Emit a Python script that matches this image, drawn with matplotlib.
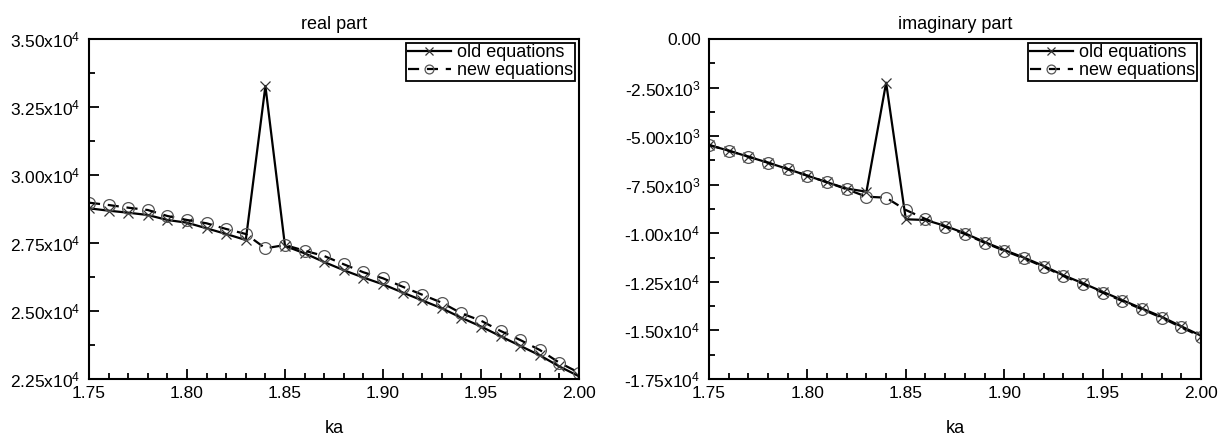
import numpy as np
import matplotlib
matplotlib.use("Agg")
import matplotlib.pyplot as plt
from matplotlib.ticker import MultipleLocator, FuncFormatter

plt.rcParams['font.family'] = ['Liberation Sans', 'DejaVu Sans']
plt.rcParams['mathtext.fontset'] = 'custom'
plt.rcParams['mathtext.rm'] = 'Liberation Sans'
plt.rcParams['mathtext.it'] = 'Liberation Sans:italic'
plt.rcParams['mathtext.bf'] = 'Liberation Sans:bold'

ka = [1.75, 1.76, 1.77, 1.78, 1.79, 1.80, 1.81, 1.82, 1.83, 1.84, 1.85, 1.86, 1.87,
      1.88, 1.89, 1.90, 1.91, 1.92, 1.93, 1.94, 1.95, 1.96, 1.97, 1.98, 1.99, 2.00]

real_old = [28776, 28688, 28614, 28529, 28346, 28246, 28040, 27831, 27610, 33272,
            27390, 27121, 26800, 26500, 26230, 25980, 25680, 25390, 25100, 24750,
            24430, 24070, 23720, 23370, 22960, 22600]
real_new = [28982, 28897, 28798, 28713, 28493, 28346, 28224, 28015, 27831, 27305,
            27426, 27217, 27022, 26717, 26423, 26202, 25893, 25599, 25305, 24915,
            24643, 24265, 23934, 23566, 23099, 22732]

imag_old = [-5455, -5748, -6057, -6366, -6691, -7035, -7375, -7700, -7859, -2249,
            -9280, -9315, -9620, -10000, -10450, -10860, -11250, -11680, -12160, -12570,
            -13010, -13440, -13870, -14300, -14790, -15270]
imag_new = [-5455, -5748, -6057, -6366, -6691, -7035, -7375, -7736, -8116, -8168,
            -8801, -9264, -9660, -10036, -10484, -10896, -11287, -11719, -12198, -12609,
            -13057, -13484, -13911, -14344, -14838, -15322]

titles = ["real part", "imaginary part"]
xlabel = "ka"
legend_labels = ["old equations", "new equations"]


def sci_fmt(v, pos):
    if abs(v) < 1e-9:
        return "0.00"
    e = int(np.floor(np.log10(abs(v))))
    m = v / 10 ** e
    return r"%.2fx10$^{%d}$" % (m, e)


fig = plt.figure(figsize=(12.31, 4.44), dpi=100)
ax1 = fig.add_axes([89 / 1231, 65 / 444, 490 / 1231, 340 / 444])
ax2 = fig.add_axes([709 / 1231, 65 / 444, 492 / 1231, 340 / 444])

configs = [
    (ax1, real_old, real_new, (22500, 35000), 2500, 1250),
    (ax2, imag_old, imag_new, (-17500, 0), 2500, 1250),
]

for i, (ax, old, new, ylim, major, minor) in enumerate(configs):
    ax.plot(ka, old, color='black', lw=1.6, marker='x', ms=7, mew=0.9,
            mec='#333333', label=legend_labels[0])
    ax.plot(ka, new, color='black', lw=1.6, ls=(0, (5, 3.5)), marker='o', ms=8.5,
            mfc='none', mec='#555555', mew=0.9, label=legend_labels[1])
    ax.set_xlim(1.75, 2.00)
    ax.set_ylim(*ylim)
    ax.xaxis.set_major_locator(MultipleLocator(0.05))
    ax.xaxis.set_minor_locator(MultipleLocator(0.01))
    ax.yaxis.set_major_locator(MultipleLocator(major))
    ax.yaxis.set_minor_locator(MultipleLocator(minor))
    ax.xaxis.set_major_formatter(FuncFormatter(lambda v, p: "%.2f" % v))
    ax.yaxis.set_major_formatter(FuncFormatter(sci_fmt))
    ax.tick_params(which='both', direction='in', top=False, right=False,
                   width=1.3, labelsize=12.5, colors='black')
    ax.tick_params(which='major', length=7)
    ax.tick_params(axis='y', which='major', pad=6)
    ax.tick_params(axis='x', which='major', pad=5)
    ax.tick_params(which='minor', length=4)
    for s in ax.spines.values():
        s.set_linewidth(1.5)
    ax.set_title(titles[i], fontsize=13, pad=7)
    ax.set_xlabel(xlabel, fontsize=13, labelpad=14)
    leg = ax.legend(loc='upper right', fontsize=13, frameon=True, fancybox=False,
                    edgecolor='black', framealpha=1, borderpad=0.1,
                    handlelength=2.4, handletextpad=0.35, labelspacing=0.05,
                    borderaxespad=0.2, markerscale=0.75, numpoints=1)
    leg.get_frame().set_linewidth(1.3)

fig.savefig("out.png", dpi=100)
